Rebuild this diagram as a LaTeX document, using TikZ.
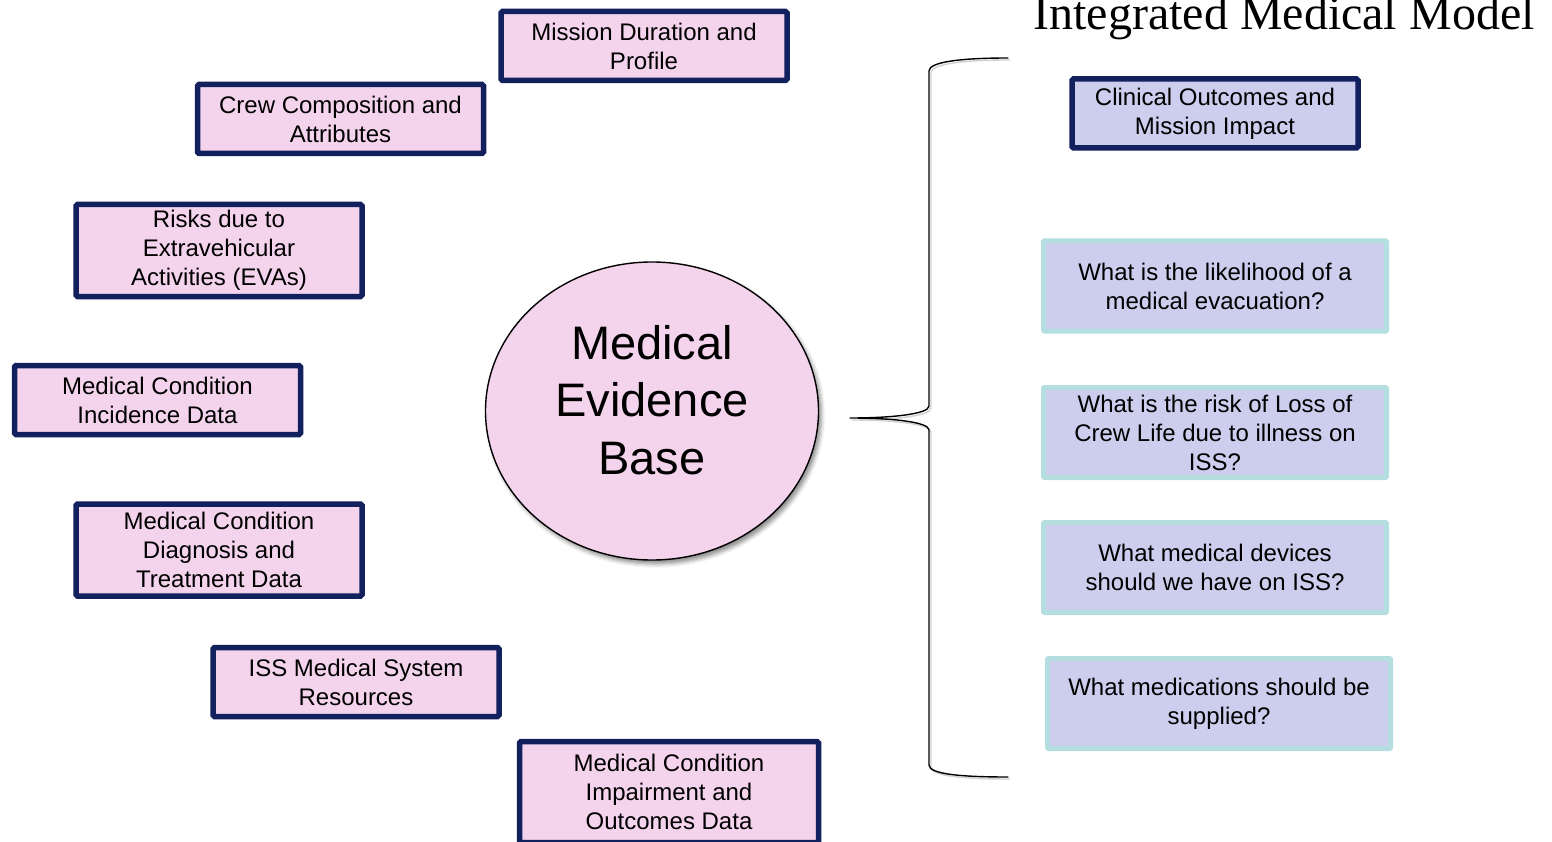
\documentclass[tikz,border=0pt]{standalone}
\usepackage{fontspec}
\setmainfont{Liberation Sans}
\newfontfamily\titlefont{Liberation Serif}
\usetikzlibrary{shapes.geometric,shadows.blur}

\definecolor{boxpink}{HTML}{F4D4EC}
\definecolor{boxnavy}{HTML}{12205E}
\definecolor{qlav}{HTML}{CDCDEE}
\definecolor{qteal}{HTML}{B5DEE0}

\tikzset{
  boxtext/.style={align=center, font=\fontsize{24}{29}\selectfont, inner sep=0pt, text=black},
  inbox/.style={boxtext, draw=boxnavy, line width=5.5pt, fill=boxpink, rounded corners=1.5pt,
    minimum width=286pt, minimum height=69pt},
  tallbox/.style={inbox, minimum height=92pt},
  outbox/.style={boxtext, draw=boxnavy, line width=5.5pt, fill=qlav, rounded corners=1.5pt,
    minimum width=286pt, minimum height=69pt},
  qbox/.style={boxtext, draw=qteal, line width=5pt, fill=qlav, rounded corners=1pt,
    minimum width=343pt, minimum height=90pt},
  bracestroke/.style={line width=1.4pt, line cap=round, line join=round},
}

\begin{document}
\begin{tikzpicture}[x=1pt, y=-1pt]
  \useasboundingbox (0,0) rectangle (1552,842);
  \clip (0,0) rectangle (1552,842);

  % title
  \node[anchor=base, inner sep=0pt, font=\titlefont\fontsize{48}{58}\selectfont] (title) at (1284,30) {Integrated Medical Model};

  % inputs to the evidence base
  \node[inbox] (mission) at (644,46) {Mission Duration and\\Profile};
  \node[inbox] (crew) at (340.5,119) {Crew Composition and\\Attributes};
  \node[tallbox] (eva) at (219,250.5) {Risks due to\\Extravehicular\\Activities (EVAs)};
  \node[inbox] (incid) at (157.5,400) {Medical Condition\\Incidence Data};
  \node[tallbox] (diag) at (219,550) {Medical Condition\\Diagnosis and\\Treatment Data};
  \node[inbox] (iss) at (356,682) {ISS Medical System\\Resources};
  \node[tallbox, minimum width=299pt, minimum height=101pt] (impair) at (669,792) {Medical Condition\\Impairment and\\Outcomes Data};

  % central evidence base
  \node[ellipse, draw=black, line width=1.4pt, fill=boxpink, minimum width=333pt, minimum height=298pt,
        blur shadow={shadow xshift=3pt, shadow yshift=-4pt, shadow blur radius=4pt, shadow opacity=45}] (meb) at (652,411) {};
  \node[align=center, inner sep=0pt, font=\fontsize{47}{57.5}\selectfont] (mebtext) at (652,400) {Medical\\Evidence\\Base};

  % brace gathering the model outputs
  \foreach \dx/\dy/\col in {2/2/black!18, 0/0/black} {
    \draw[bracestroke, draw=\col, xshift=\dx pt, yshift=-\dy pt]
      (1008,58) .. controls (960,58) and (929,62) .. (929,71)
      -- (929,406) .. controls (929,414) and (892,418) .. (850,418)
      .. controls (892,418) and (929,422) .. (929,430)
      -- (929,765) .. controls (929,774) and (960,777) .. (1008,777);
  }
  \coordinate (bracetip) at (850,418);

  % model outputs
  \node[outbox] (clinical) at (1215,113.5) {Clinical Outcomes and\\Mission Impact};
  \node[qbox] (evac) at (1215,286) {What is the likelihood of a\\medical evacuation?};
  \node[qbox] (locl) at (1215,432.5) {What is the risk of Loss of\\Crew Life due to illness on\\ISS?};
  \node[qbox] (devices) at (1215,567.5) {What medical devices\\should we have on ISS?};
  \node[qbox] (meds) at (1219,703.5) {What medications should be\\supplied?};
\end{tikzpicture}
\end{document}
